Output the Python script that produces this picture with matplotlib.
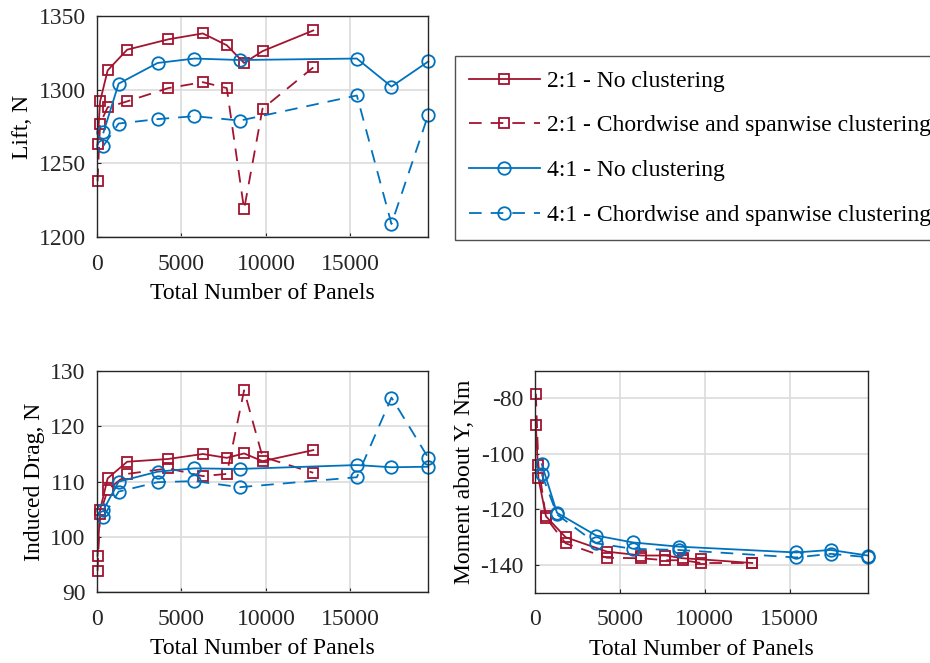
import numpy as np
import matplotlib
matplotlib.use('Agg')
import matplotlib.pyplot as plt

plt.rcParams['font.family'] = ['Liberation Serif', 'DejaVu Serif']
plt.rcParams['font.size'] = 17
plt.rcParams['axes.unicode_minus'] = False

# panel counts
n21 = [50, 200, 648, 1800, 4232, 6272, 7688, 8712, 9800, 12800]
n41 = [400, 1296, 3600, 5776, 8464, 15376, 17424, 19600]

# lift, N
lift21 = [1263, 1292, 1313, 1327, 1334, 1338, 1330, 1318, 1326, 1340]
lift21c = [1238, 1277, 1288, 1292, 1301, 1305, 1301, 1219, 1287, 1315]
lift41 = [1271, 1304, 1318, 1321, 1320, 1321, 1302, 1319]
lift41c = [1262, 1277, 1280, 1282, 1279, 1296, 1209, 1283]

# induced drag, N
drag21 = [96.6, 104.9, 110.6, 113.6, 114.1, 115.0, 114.3, 115.1, 113.7, 115.7]
drag21c = [93.9, 104.2, 108.5, 111.4, 112.4, 111.0, 111.4, 126.5, 114.5, 111.6]
drag41 = [104.9, 110.0, 111.8, 112.4, 112.3, 113.0, 112.6, 112.7]
drag41c = [103.7, 108.2, 109.9, 110.1, 109.0, 110.8, 125.2, 114.3]

# moment about Y, Nm
mom21 = [-89.5, -108.7, -122.5, -130.0, -135.2, -136.6, -136.6, -137.6, -138.0, -139.3]
mom21c = [-78.3, -104.0, -123.0, -132.2, -137.4, -137.6, -138.3, -138.3, -139.3, -139.3]
mom41 = [-103.7, -121.2, -129.4, -131.9, -133.4, -135.5, -134.6, -136.6]
mom41c = [-107.3, -121.8, -132.2, -134.2, -134.6, -137.3, -136.0, -137.2]

labels = ['2:1 - No clustering', '2:1 - Chordwise and spanwise clustering',
          '4:1 - No clustering', '4:1 - Chordwise and spanwise clustering']

red = '#A2142F'
blue = '#0072BD'

W, H = 930, 663
fig = plt.figure(figsize=(W/100, H/100), dpi=100)


def box(l, t, r, b):
    return [l/W, 1-b/H, (r-l)/W, (b-t)/H]


def panel(rect, ys, ylim, yticks, ylab):
    ax = fig.add_axes(rect)
    st = [('-', 's', red, n21), ('--', 's', red, n21),
          ('-', 'o', blue, n41), ('--', 'o', blue, n41)]
    hs = []
    for (ls, mk, c, x), y, lab in zip(st, ys, labels):
        ms = 7 if mk == 's' else 9
        h, = ax.plot(x, y, linestyle=ls, marker=mk, color=c, lw=1.3, ms=ms,
                     mfc='none', mew=1.3, label=lab, clip_on=False)
        if ls == '--':
            h.set_dashes((7, 5))
        hs.append(h)
    ax.set_xlim(0, 19600)
    ax.set_ylim(*ylim)
    ax.set_xticks([0, 5000, 10000, 15000])
    ax.set_yticks(yticks)
    ax.grid(True, color='#dcdcdc', lw=1.2)
    ax.set_axisbelow(True)
    ax.tick_params(direction='in', length=3, colors='#262626', labelsize=17)
    ax.tick_params(axis='x', pad=12)
    ax.tick_params(axis='y', pad=8)
    for s in ax.spines.values():
        s.set_color('#262626')
        s.set_linewidth(1.0)
    ax.set_xlabel('Total Number of Panels', fontsize=17, labelpad=6)
    ax.set_ylabel(ylab, fontsize=17, labelpad=4)
    return ax, hs


ax1, hs = panel(box(96.7, 15.7, 428.3, 237.3), [lift21, lift21c, lift41, lift41c],
                (1200, 1350), [1200, 1250, 1300, 1350], 'Lift, N')
ax2, _ = panel(box(96.7, 371, 428.3, 592.3), [drag21, drag21c, drag41, drag41c],
               (90, 130), [90, 100, 110, 120, 130], 'Induced Drag, N')
ax3, _ = panel(box(535, 370.7, 867.7, 592.7), [mom21, mom21c, mom41, mom41c],
               (-150, -70), [-140, -120, -100, -80], 'Moment about Y, Nm')

leg = fig.legend(handles=hs, loc='center', bbox_to_anchor=(700/W, 1-148/H),
                 fontsize=17, frameon=True, fancybox=False, edgecolor='#262626',
                 handlelength=3, labelspacing=0.98, borderpad=0.6, handletextpad=0.3)
leg.get_frame().set_linewidth(1.0)

fig.savefig('out.png', dpi=100)
